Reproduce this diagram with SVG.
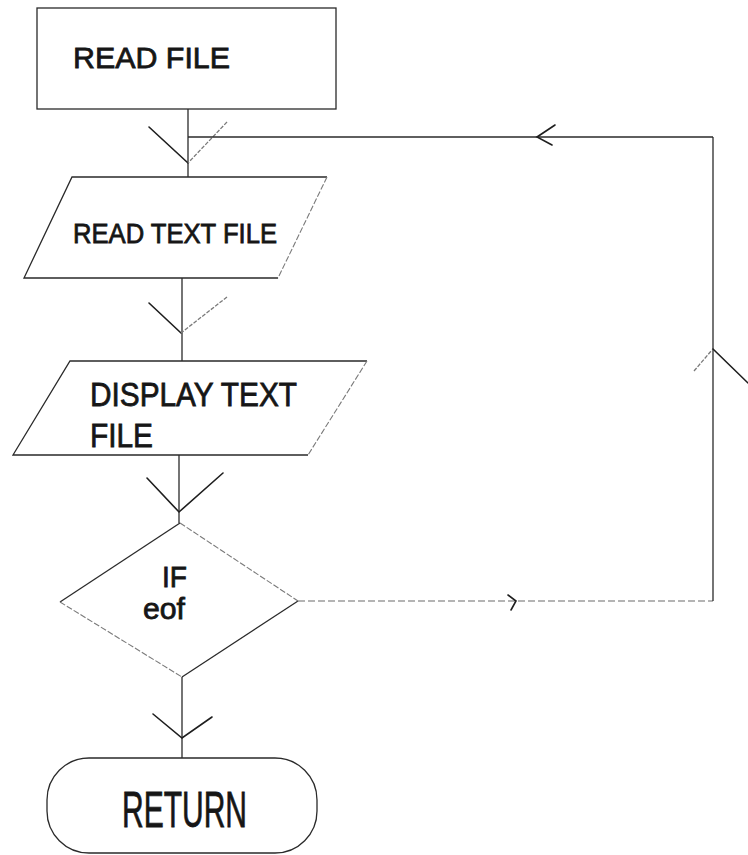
<svg xmlns="http://www.w3.org/2000/svg" width="748" height="855" viewBox="0 0 748 855">
  <style>
    .shape { fill: none; stroke: #2a2a2a; stroke-width: 1.3; }
    .faint { fill: none; stroke: #7a7a7a; stroke-width: 1.1; stroke-dasharray: 6 2; }
    .line { fill: none; stroke: #2a2a2a; stroke-width: 1.3; }
    .lineFaint { fill: none; stroke: #6a6a6a; stroke-width: 1.1; stroke-dasharray: 7 3; }
    .head { fill: none; stroke: #1e1e1e; stroke-width: 1.6; stroke-linecap: round; }
    .headFaint { fill: none; stroke: #7a7a7a; stroke-width: 1.3; stroke-dasharray: 4 1.5; }
    .label { font-family: "Liberation Sans", Arial, sans-serif; fill: #161616; stroke: #161616; stroke-width: 0.8; }
  </style>

  <rect width="748" height="855" fill="#ffffff"/>

  <!-- Process: READ FILE -->
  <g id="read-file">
    <rect class="shape" x="37" y="8" width="299" height="101"/>
    <text class="label" x="73" y="68" font-size="30" textLength="157" lengthAdjust="spacingAndGlyphs">READ FILE</text>
  </g>

  <!-- Input: READ TEXT FILE -->
  <g id="read-text-file">
    <polyline class="shape" points="327,177 72,177 24,278 278,278"/>
    <line class="faint" x1="327" y1="177" x2="278" y2="278"/>
    <text class="label" x="73" y="243" font-size="28" textLength="204" lengthAdjust="spacingAndGlyphs">READ TEXT FILE</text>
  </g>

  <!-- Output: DISPLAY TEXT FILE -->
  <g id="display-text-file">
    <polyline class="shape" points="367,361 70,361 13,455 308,455"/>
    <line class="faint" x1="367" y1="361" x2="308" y2="455"/>
    <text class="label" x="90" y="406" font-size="34" textLength="207" lengthAdjust="spacingAndGlyphs">DISPLAY TEXT</text>
    <text class="label" x="90" y="447" font-size="34" textLength="63" lengthAdjust="spacingAndGlyphs">FILE</text>
  </g>

  <!-- Decision: IF eof -->
  <g id="if-eof">
    <polyline class="shape" points="180,523 60,602"/>
    <polyline class="shape" points="298,601 182,677"/>
    <line class="faint" x1="180" y1="523" x2="298" y2="601"/>
    <line class="faint" x1="60" y1="602" x2="182" y2="677"/>
    <text class="label" x="162" y="587" font-size="30" textLength="25" lengthAdjust="spacingAndGlyphs">IF</text>
    <text class="label" x="143" y="619" font-size="30" textLength="42" lengthAdjust="spacingAndGlyphs">eof</text>
  </g>

  <!-- Terminator: RETURN -->
  <g id="return">
    <rect class="shape" x="47" y="758" width="270" height="95" rx="42" ry="42"/>
    <text class="label" x="122" y="827" font-size="50" textLength="125" lengthAdjust="spacingAndGlyphs" stroke-width="0.5">RETURN</text>
  </g>

  <!-- Connectors -->
  <g id="connectors">
    <!-- READ FILE to READ TEXT FILE -->
    <line class="line" x1="188" y1="109" x2="188" y2="177"/>
    <polyline class="head" points="149,127 188,163"/>
    <polyline class="headFaint" points="227,122 188,163"/>

    <!-- READ TEXT FILE to DISPLAY TEXT FILE -->
    <line class="line" x1="182" y1="278" x2="182" y2="361"/>
    <polyline class="head" points="149,303 181,333"/>
    <polyline class="headFaint" points="227,297 181,333"/>

    <!-- DISPLAY TEXT FILE to IF eof -->
    <line class="line" x1="179" y1="455" x2="179" y2="523"/>
    <polyline class="head" points="147,478 179,512 223,473"/>

    <!-- IF eof to RETURN -->
    <line class="line" x1="182" y1="677" x2="182" y2="758"/>
    <polyline class="head" points="153,714 182,738 212,717"/>

    <!-- Loop back from IF eof to READ TEXT FILE -->
    <line class="lineFaint" x1="298" y1="601" x2="713" y2="601"/>
    <path class="head" d="M508,595 L516,601 L511,610" stroke-width="2.4"/>
    <line class="line" x1="713" y1="601" x2="713" y2="137"/>
    <line class="headFaint" x1="694" y1="371" x2="712" y2="350"/>
    <line class="head" x1="713" y1="349" x2="748" y2="383"/>
    <line class="line" x1="713" y1="137" x2="188" y2="137"/>
    <polyline class="head" points="555,125 537,137 552,145"/>
  </g>
</svg>
